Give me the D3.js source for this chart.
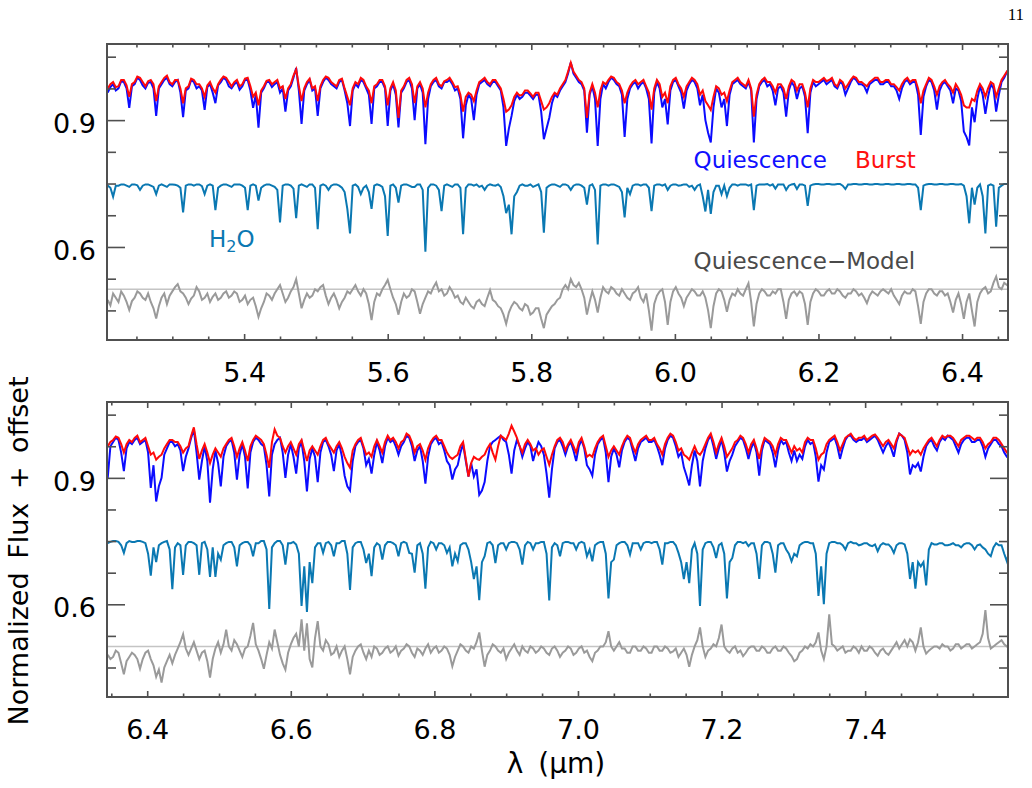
<!DOCTYPE html>
<html>
<head>
<meta charset="utf-8">
<script src="https://cdn.jsdelivr.net/npm/d3@7"></script>
<style>
    body { margin: 0; background: #fff; }
    #spectra text { font-family: "DejaVu Sans", sans-serif; }
</style>
</head>
<body>
<div id="spectra"></div>
<script>
// resampled wavelength grid (micron): start of each panel + constant step
const waveStep = 0.00375;
const topStart = 5.21;
const bottomStart = 6.345;

// ---- 5.2 - 6.46 micron ----
const topQuiescence = [
    0.965,0.978,0.985,0.97,0.975,0.992,0.99,0.975,0.929,0.98,0.985,1.0,0.995,0.982,0.975,0.988,0.99,0.975,0.910,0.975,
    0.985,0.995,1.0,0.985,0.98,0.99,0.995,0.965,0.907,0.97,0.975,0.995,0.99,0.975,0.98,0.97,0.924,0.978,0.985,0.965,
    0.94,0.982,0.99,1.0,0.995,0.98,0.975,0.985,0.99,0.972,0.98,0.995,0.995,0.97,0.929,0.96,0.882,0.965,0.975,0.99,
    0.99,0.978,0.985,0.99,0.965,0.975,0.92,0.97,0.98,1.0,1.023,0.97,0.891,0.97,0.985,0.995,0.97,0.975,0.91,0.975,
    0.99,1.0,0.995,0.985,0.98,0.975,0.99,0.995,0.97,0.94,0.886,0.97,0.985,0.978,0.995,0.99,0.975,0.96,0.891,0.975,
    0.98,0.99,0.99,0.975,0.886,0.97,0.985,0.96,0.883,0.965,0.975,0.99,0.995,0.975,0.90,0.975,0.985,0.965,0.843,0.95,
    0.98,0.99,0.995,0.98,0.975,0.99,0.99,0.995,0.985,0.97,0.975,0.95,0.857,0.935,0.96,0.95,0.90,0.96,0.985,0.99,
    0.995,0.985,0.98,0.99,0.99,0.98,0.97,0.93,0.839,0.88,0.91,0.945,0.96,0.95,0.955,0.965,0.965,0.958,0.95,0.96,
    0.96,0.92,0.855,0.88,0.905,0.94,0.96,0.955,0.97,0.98,0.99,1.01,1.036,1.01,1.0,0.99,0.985,0.97,0.87,0.96,
    0.98,0.95,0.839,0.95,0.985,0.975,0.99,1.0,0.995,0.985,0.98,0.96,0.86,0.95,0.975,0.985,0.99,0.975,0.985,0.99,
    0.975,0.95,0.845,0.965,0.99,0.975,0.93,0.95,0.89,0.97,0.99,0.995,0.98,0.965,0.927,0.97,0.985,0.995,0.99,0.975,
    0.935,0.96,0.90,0.87,0.847,0.93,0.975,0.965,0.93,0.95,0.886,0.96,0.985,0.99,0.995,0.985,0.98,0.975,0.99,0.97,
    0.847,0.95,0.98,0.99,0.995,0.98,0.985,0.97,0.935,0.975,0.98,0.965,0.908,0.97,0.99,0.98,0.95,0.975,0.98,0.955,
    0.869,0.965,0.99,0.98,0.985,0.99,0.995,0.985,0.99,0.995,0.98,0.975,0.99,0.985,0.96,0.975,0.99,1.0,0.995,0.985,
    0.985,0.98,0.966,0.985,0.99,0.995,0.995,0.985,0.985,0.99,0.99,0.98,0.98,0.97,0.95,0.975,0.99,0.995,0.985,0.99,
    0.99,0.96,0.865,0.955,0.98,0.995,0.99,0.97,0.925,0.97,0.985,0.99,0.98,0.97,0.94,0.975,0.97,0.945,0.873,0.86,
    0.84,0.93,0.895,0.95,0.98,0.96,0.915,0.955,0.985,0.975,0.92,0.96,0.99,1.0,1.014,1.01
];
const topBurst = [
    0.975,0.985,0.99,0.978,0.98,0.995,0.995,0.982,0.955,0.985,0.99,1.003,1.0,0.99,0.98,0.992,0.995,0.985,0.945,0.98,
    0.99,1.0,1.005,0.99,0.985,0.995,0.995,0.975,0.94,0.975,0.98,0.998,0.995,0.985,0.985,0.975,0.955,0.982,0.99,0.975,
    0.965,0.985,0.995,1.003,1.0,0.99,0.98,0.99,0.995,0.98,0.985,0.998,1.0,0.98,0.955,0.965,0.935,0.97,0.98,0.993,
    0.995,0.985,0.99,0.995,0.975,0.98,0.95,0.975,0.985,1.005,1.02,0.98,0.945,0.975,0.99,0.998,0.975,0.98,0.945,0.98,
    0.995,1.003,1.0,0.99,0.985,0.98,0.995,0.998,0.975,0.955,0.935,0.975,0.99,0.985,1.0,0.995,0.98,0.97,0.94,0.98,
    0.985,0.995,0.995,0.98,0.935,0.975,0.99,0.97,0.905,0.97,0.98,0.995,1.0,0.985,0.94,0.98,0.99,0.975,0.93,0.965,
    0.985,0.995,1.0,0.985,0.98,0.992,0.995,1.0,0.99,0.978,0.98,0.96,0.92,0.955,0.965,0.96,0.945,0.97,0.99,0.995,
    1.0,0.99,0.985,0.995,0.995,0.985,0.975,0.95,0.92,0.925,0.935,0.955,0.965,0.958,0.96,0.97,0.97,0.963,0.955,0.965,
    0.965,0.945,0.925,0.93,0.94,0.955,0.965,0.96,0.975,0.985,0.995,1.015,1.036,1.015,1.005,0.995,0.99,0.975,0.905,0.965,
    0.985,0.965,0.93,0.97,0.99,0.985,0.995,1.003,1.0,0.99,0.985,0.97,0.94,0.965,0.98,0.99,0.995,0.985,0.99,0.995,
    0.98,0.965,0.925,0.975,0.995,0.985,0.955,0.965,0.94,0.98,0.995,1.0,0.985,0.975,0.955,0.98,0.99,1.0,0.995,0.985,
    0.96,0.97,0.945,0.935,0.924,0.955,0.98,0.975,0.96,0.965,0.945,0.97,0.99,0.995,1.0,0.99,0.985,0.98,0.995,0.975,
    0.908,0.96,0.985,0.995,1.0,0.99,0.99,0.98,0.965,0.985,0.985,0.975,0.95,0.98,0.995,0.99,0.97,0.985,0.985,0.965,
    0.93,0.975,0.995,0.99,0.99,0.995,1.0,0.992,0.995,1.0,0.985,0.98,0.995,0.99,0.975,0.985,0.995,1.003,1.0,0.99,
    0.99,0.985,0.98,0.99,0.995,1.0,1.0,0.99,0.99,0.995,0.995,0.985,0.985,0.978,0.97,0.985,0.995,1.0,0.99,0.995,
    0.995,0.975,0.94,0.97,0.985,1.0,0.995,0.98,0.96,0.98,0.99,0.995,0.985,0.978,0.965,0.985,0.975,0.96,0.935,0.93,
    0.93,0.95,0.945,0.97,0.985,0.975,0.955,0.975,0.99,0.985,0.955,0.975,0.995,1.005,1.015,1.01
];
const topH2O = [
    0.745,0.74,0.719,0.745,0.745,0.748,0.748,0.745,0.742,0.748,0.748,0.746,0.735,0.745,0.748,0.748,0.745,0.742,0.725,0.745,
    0.748,0.745,0.742,0.748,0.748,0.747,0.745,0.74,0.682,0.745,0.748,0.748,0.745,0.748,0.748,0.744,0.725,0.745,0.748,0.745,
    0.687,0.74,0.745,0.748,0.748,0.745,0.742,0.748,0.748,0.748,0.745,0.74,0.687,0.745,0.748,0.745,0.71,0.74,0.745,0.748,
    0.748,0.745,0.742,0.735,0.658,0.745,0.748,0.748,0.745,0.738,0.668,0.745,0.748,0.745,0.742,0.748,0.748,0.74,0.642,0.745,
    0.748,0.745,0.735,0.745,0.748,0.748,0.745,0.74,0.73,0.69,0.632,0.745,0.748,0.742,0.725,0.74,0.745,0.73,0.69,0.745,
    0.748,0.746,0.742,0.72,0.626,0.745,0.748,0.74,0.705,0.745,0.748,0.748,0.745,0.742,0.742,0.748,0.748,0.735,0.589,0.74,
    0.748,0.748,0.745,0.735,0.685,0.745,0.748,0.745,0.742,0.748,0.748,0.74,0.63,0.74,0.748,0.748,0.745,0.748,0.742,0.745,
    0.735,0.745,0.748,0.746,0.745,0.748,0.742,0.72,0.68,0.70,0.63,0.72,0.73,0.745,0.748,0.745,0.745,0.748,0.742,0.745,
    0.748,0.73,0.634,0.74,0.745,0.748,0.748,0.745,0.742,0.748,0.748,0.745,0.735,0.745,0.748,0.748,0.745,0.74,0.70,0.745,
    0.748,0.735,0.606,0.745,0.748,0.748,0.745,0.748,0.748,0.745,0.742,0.73,0.67,0.74,0.725,0.745,0.748,0.748,0.745,0.748,
    0.748,0.74,0.685,0.745,0.748,0.748,0.745,0.748,0.735,0.745,0.748,0.748,0.745,0.746,0.748,0.748,0.742,0.745,0.735,0.745,
    0.748,0.72,0.684,0.735,0.678,0.73,0.745,0.745,0.725,0.745,0.72,0.74,0.748,0.748,0.745,0.748,0.748,0.748,0.745,0.748,
    0.687,0.745,0.748,0.748,0.748,0.749,0.745,0.748,0.738,0.748,0.748,0.748,0.735,0.745,0.748,0.749,0.737,0.748,0.748,0.745,
    0.697,0.745,0.748,0.749,0.749,0.748,0.748,0.749,0.749,0.748,0.748,0.749,0.749,0.745,0.737,0.748,0.748,0.749,0.749,0.748,
    0.748,0.749,0.749,0.748,0.748,0.749,0.749,0.748,0.748,0.749,0.749,0.748,0.748,0.749,0.749,0.748,0.748,0.749,0.749,0.748,
    0.748,0.74,0.687,0.745,0.748,0.749,0.749,0.748,0.748,0.749,0.749,0.748,0.748,0.749,0.749,0.748,0.748,0.749,0.745,0.72,
    0.656,0.74,0.70,0.74,0.748,0.72,0.632,0.745,0.748,0.745,0.648,0.74,0.745,0.749,0.749,0.748
];
const topResidual = [
    0.475,0.462,0.49,0.48,0.47,0.495,0.485,0.47,0.451,0.472,0.48,0.495,0.49,0.48,0.475,0.49,0.47,0.455,0.431,0.46,
    0.48,0.49,0.465,0.485,0.495,0.505,0.512,0.495,0.49,0.48,0.465,0.478,0.485,0.505,0.495,0.475,0.48,0.49,0.47,0.482,
    0.49,0.475,0.48,0.49,0.495,0.48,0.485,0.495,0.49,0.47,0.475,0.485,0.465,0.475,0.48,0.46,0.435,0.455,0.47,0.49,
    0.485,0.475,0.49,0.5,0.51,0.49,0.47,0.48,0.495,0.505,0.524,0.49,0.455,0.475,0.49,0.48,0.485,0.5,0.495,0.505,
    0.51,0.485,0.465,0.48,0.49,0.475,0.455,0.47,0.48,0.495,0.49,0.5,0.51,0.495,0.485,0.5,0.49,0.465,0.427,0.47,
    0.49,0.485,0.5,0.51,0.522,0.5,0.48,0.465,0.44,0.47,0.49,0.48,0.485,0.5,0.495,0.47,0.442,0.465,0.48,0.495,
    0.49,0.505,0.516,0.495,0.5,0.485,0.49,0.505,0.495,0.48,0.485,0.47,0.465,0.48,0.47,0.46,0.455,0.47,0.475,0.465,
    0.46,0.48,0.498,0.475,0.47,0.46,0.455,0.44,0.418,0.445,0.46,0.47,0.465,0.455,0.45,0.465,0.46,0.44,0.445,0.455,
    0.455,0.43,0.408,0.44,0.45,0.46,0.465,0.475,0.48,0.5,0.51,0.5,0.524,0.51,0.505,0.515,0.5,0.48,0.44,0.47,
    0.495,0.475,0.445,0.48,0.505,0.495,0.49,0.505,0.5,0.49,0.485,0.5,0.49,0.48,0.475,0.49,0.495,0.505,0.48,0.47,
    0.49,0.45,0.402,0.465,0.485,0.495,0.5,0.47,0.416,0.47,0.495,0.505,0.49,0.48,0.46,0.48,0.49,0.5,0.495,0.485,
    0.485,0.495,0.48,0.45,0.408,0.46,0.49,0.5,0.495,0.475,0.447,0.475,0.49,0.485,0.5,0.49,0.485,0.5,0.514,0.47,
    0.412,0.465,0.49,0.5,0.495,0.485,0.485,0.495,0.49,0.5,0.5,0.47,0.43,0.475,0.49,0.495,0.485,0.495,0.49,0.465,
    0.416,0.47,0.49,0.5,0.495,0.485,0.485,0.495,0.5,0.49,0.49,0.5,0.495,0.485,0.48,0.49,0.49,0.5,0.495,0.485,
    0.49,0.48,0.467,0.485,0.495,0.49,0.485,0.495,0.5,0.495,0.49,0.5,0.485,0.475,0.465,0.485,0.495,0.49,0.49,0.5,
    0.495,0.46,0.418,0.47,0.49,0.5,0.5,0.49,0.485,0.495,0.495,0.485,0.49,0.47,0.445,0.475,0.49,0.465,0.43,0.47,
    0.49,0.45,0.412,0.47,0.49,0.5,0.505,0.49,0.495,0.515,0.53,0.505,0.5,0.515,0.51,0.505
];

// ---- 6.34 - 7.6 micron ----
const bottomQuiescence = [
    0.90,0.975,0.985,0.995,0.99,0.96,0.916,0.97,0.985,0.98,0.99,0.995,0.98,0.985,0.99,0.96,0.876,0.93,0.844,0.88,
    0.90,0.955,0.97,0.985,0.985,0.975,0.98,0.965,0.916,0.95,0.97,0.995,1.015,0.96,0.896,0.94,0.975,0.94,0.841,0.92,
    0.965,0.935,0.88,0.95,0.975,0.985,0.99,0.96,0.896,0.955,0.98,0.95,0.875,0.96,0.985,0.995,0.99,0.98,0.975,0.93,
    0.856,0.955,0.98,0.99,0.995,0.96,0.90,0.955,0.98,0.95,0.91,0.97,0.985,0.94,0.868,0.945,0.97,0.95,0.89,0.96,
    0.985,0.99,0.975,0.955,0.916,0.965,0.98,0.95,0.905,0.88,0.87,0.94,0.975,0.985,0.99,0.97,0.93,0.945,0.91,0.955,
    0.985,0.965,0.935,0.975,0.995,0.985,0.99,0.975,0.955,0.975,0.985,1.0,0.995,0.975,0.94,0.965,0.975,0.94,0.886,0.95,
    0.98,0.99,0.995,0.98,0.985,0.965,0.94,0.93,0.896,0.92,0.93,0.96,0.98,0.94,0.903,0.935,0.903,0.92,0.86,0.87,
    0.89,0.94,0.975,0.985,0.99,0.995,1.0,0.99,0.985,0.955,0.91,0.965,0.99,0.975,0.95,0.97,0.985,0.975,0.94,0.965,
    0.985,0.975,0.955,0.91,0.853,0.92,0.97,0.985,0.99,0.975,0.955,0.975,0.985,0.965,0.94,0.975,0.99,0.97,0.93,0.92,
    0.905,0.955,0.98,0.99,0.995,0.96,0.89,0.95,0.97,0.955,0.925,0.965,0.985,0.995,0.99,0.965,0.94,0.97,0.985,0.99,
    0.995,0.985,0.985,0.99,0.975,0.955,0.93,0.97,0.99,1.0,0.995,0.975,0.95,0.96,0.925,0.905,0.882,0.93,0.965,0.94,
    0.88,0.94,0.97,0.99,1.0,0.975,0.945,0.97,0.99,0.96,0.915,0.94,0.955,0.975,0.985,0.995,0.99,0.97,0.945,0.97,
    0.985,0.96,0.905,0.965,0.99,0.985,0.98,0.96,0.925,0.965,0.99,0.98,0.985,0.96,0.94,0.965,0.94,0.955,0.945,0.975,
    0.99,0.98,0.985,0.95,0.891,0.93,0.92,0.96,0.985,0.99,0.995,0.975,0.945,0.97,0.99,1.0,1.0,0.99,0.985,0.99,
    0.99,0.995,0.985,0.99,0.995,1.0,0.99,0.975,0.96,0.975,0.985,0.97,0.95,0.985,1.005,1.0,0.99,0.96,0.908,0.93,
    0.925,0.935,0.915,0.95,0.975,0.985,0.99,0.975,0.965,0.985,0.995,0.99,1.0,0.995,0.99,0.975,0.96,0.98,0.99,0.995,
    0.995,0.985,0.985,0.99,0.99,0.975,0.95,0.97,0.98,0.99,0.99,0.98,0.975,0.96,0.95,0.945
];
const bottomBurst = [
    0.975,0.985,0.99,0.998,0.995,0.98,0.96,0.98,0.99,0.985,0.995,1.0,0.985,0.99,0.995,0.975,0.955,0.96,0.943,0.95,
    0.955,0.97,0.98,0.99,0.99,0.985,0.985,0.975,0.96,0.97,0.975,1.0,1.02,0.98,0.945,0.965,0.98,0.96,0.935,0.955,
    0.97,0.96,0.95,0.97,0.98,0.99,0.995,0.975,0.95,0.97,0.985,0.965,0.94,0.975,0.99,1.0,0.995,0.99,0.98,0.955,
    0.924,0.985,1.015,1.0,0.995,0.975,0.96,0.975,0.985,0.97,0.955,0.98,0.99,0.965,0.94,0.965,0.975,0.965,0.955,0.975,
    0.99,0.995,0.98,0.97,0.96,0.975,0.985,0.97,0.95,0.935,0.924,0.965,0.98,0.99,0.995,0.975,0.955,0.96,0.95,0.975,
    0.99,0.975,0.96,0.985,1.0,0.99,0.995,0.985,0.97,0.985,0.99,1.005,1.0,0.985,0.96,0.975,0.98,0.965,0.943,0.97,
    0.985,0.995,1.0,0.99,0.99,0.975,0.96,0.95,0.945,0.95,0.955,0.975,0.985,0.945,0.903,0.935,0.95,0.945,0.943,0.95,
    0.955,0.97,0.98,0.96,0.943,0.975,1.0,0.995,0.99,1.005,1.024,1.01,0.995,0.975,0.96,0.98,0.99,0.98,0.965,0.97,
    0.955,0.965,0.97,0.95,0.931,0.955,0.975,0.99,0.995,0.985,0.965,0.98,0.99,0.975,0.96,0.985,0.995,0.975,0.95,0.955,
    0.95,0.97,0.985,0.995,1.0,0.975,0.95,0.965,0.975,0.965,0.955,0.975,0.99,1.0,0.995,0.975,0.96,0.98,0.99,0.995,
    1.0,0.99,0.99,0.995,0.98,0.97,0.955,0.98,0.995,1.005,1.0,0.985,0.965,0.97,0.955,0.95,0.943,0.96,0.975,0.96,
    0.955,0.965,0.98,0.995,1.005,0.985,0.96,0.98,0.995,0.975,0.95,0.96,0.97,0.985,0.99,1.0,0.995,0.98,0.96,0.98,
    0.99,0.97,0.945,0.975,0.995,0.99,0.985,0.975,0.955,0.98,0.995,0.99,0.99,0.975,0.96,0.975,0.965,0.97,0.96,0.985,
    0.995,0.99,0.99,0.97,0.943,0.955,0.96,0.98,0.99,0.995,1.0,0.985,0.965,0.98,0.995,1.0,1.005,0.995,0.99,0.995,
    0.995,1.0,0.99,0.995,1.0,1.003,0.995,0.985,0.975,0.985,0.99,0.98,0.97,0.99,1.005,1.0,0.995,0.975,0.955,0.965,
    0.96,0.965,0.955,0.97,0.98,0.99,0.995,0.985,0.975,0.99,1.0,0.995,1.0,1.0,0.995,0.985,0.975,0.99,0.995,1.0,
    1.0,0.995,0.99,0.995,0.995,0.985,0.97,0.98,0.985,0.995,0.995,0.99,0.98,0.97,0.96,0.955
];
const bottomH2O = [
    0.745,0.748,0.75,0.75,0.748,0.74,0.722,0.745,0.75,0.748,0.748,0.75,0.75,0.748,0.745,0.72,0.668,0.735,0.70,0.74,
    0.745,0.748,0.75,0.73,0.636,0.735,0.745,0.74,0.67,0.74,0.748,0.748,0.745,0.74,0.67,0.745,0.748,0.73,0.665,0.735,
    0.665,0.72,0.706,0.74,0.745,0.748,0.748,0.735,0.69,0.74,0.745,0.748,0.748,0.74,0.714,0.745,0.745,0.75,0.75,0.73,
    0.589,0.735,0.745,0.75,0.75,0.74,0.694,0.745,0.745,0.748,0.742,0.72,0.596,0.69,0.582,0.70,0.65,0.735,0.745,0.745,
    0.722,0.745,0.748,0.74,0.714,0.745,0.745,0.75,0.75,0.72,0.634,0.735,0.745,0.748,0.748,0.73,0.698,0.72,0.667,0.735,
    0.745,0.74,0.706,0.74,0.748,0.748,0.745,0.74,0.714,0.745,0.748,0.745,0.722,0.72,0.675,0.74,0.745,0.72,0.637,0.735,
    0.748,0.745,0.73,0.745,0.745,0.74,0.722,0.735,0.69,0.72,0.702,0.74,0.745,0.745,0.73,0.70,0.66,0.69,0.61,0.70,
    0.714,0.745,0.748,0.74,0.698,0.74,0.745,0.745,0.73,0.745,0.748,0.748,0.745,0.73,0.694,0.74,0.748,0.745,0.73,0.745,
    0.745,0.748,0.748,0.72,0.609,0.735,0.745,0.74,0.714,0.745,0.748,0.748,0.745,0.745,0.73,0.745,0.748,0.745,0.714,0.73,
    0.702,0.74,0.745,0.748,0.748,0.72,0.614,0.70,0.706,0.74,0.745,0.748,0.748,0.74,0.718,0.745,0.745,0.745,0.73,0.745,
    0.748,0.748,0.745,0.748,0.748,0.73,0.694,0.745,0.745,0.748,0.748,0.74,0.722,0.70,0.66,0.70,0.65,0.73,0.745,0.72,
    0.596,0.73,0.745,0.748,0.748,0.735,0.71,0.74,0.745,0.72,0.614,0.70,0.71,0.74,0.748,0.748,0.745,0.748,0.738,0.745,
    0.745,0.72,0.66,0.74,0.748,0.748,0.745,0.72,0.675,0.74,0.745,0.745,0.73,0.72,0.702,0.72,0.714,0.74,0.745,0.748,
    0.748,0.745,0.745,0.72,0.62,0.69,0.60,0.72,0.745,0.748,0.748,0.745,0.745,0.74,0.73,0.745,0.748,0.745,0.745,0.74,
    0.742,0.745,0.745,0.74,0.738,0.742,0.726,0.74,0.745,0.742,0.742,0.735,0.722,0.74,0.745,0.745,0.742,0.72,0.66,0.70,
    0.637,0.70,0.69,0.70,0.645,0.73,0.745,0.742,0.742,0.745,0.745,0.74,0.74,0.742,0.745,0.74,0.74,0.735,0.742,0.745,
    0.745,0.74,0.73,0.74,0.742,0.735,0.73,0.72,0.714,0.735,0.745,0.74,0.74,0.72,0.702,0.73
];
const bottomResidual = [
    0.48,0.47,0.475,0.49,0.485,0.46,0.434,0.465,0.475,0.485,0.48,0.47,0.447,0.47,0.485,0.49,0.47,0.455,0.428,0.445,
    0.414,0.45,0.465,0.48,0.46,0.48,0.495,0.51,0.529,0.495,0.48,0.495,0.51,0.49,0.47,0.485,0.49,0.465,0.426,0.47,
    0.495,0.51,0.485,0.505,0.54,0.5,0.49,0.515,0.505,0.49,0.475,0.495,0.5,0.525,0.556,0.505,0.49,0.47,0.447,0.48,
    0.51,0.495,0.54,0.51,0.48,0.46,0.445,0.485,0.505,0.52,0.53,0.5,0.564,0.49,0.555,0.47,0.45,0.52,0.56,0.5,
    0.49,0.515,0.505,0.48,0.485,0.5,0.475,0.49,0.5,0.47,0.434,0.475,0.49,0.5,0.505,0.485,0.47,0.49,0.475,0.5,
    0.495,0.48,0.485,0.495,0.5,0.485,0.49,0.5,0.478,0.49,0.495,0.505,0.5,0.485,0.475,0.495,0.49,0.48,0.495,0.505,
    0.485,0.495,0.5,0.485,0.49,0.5,0.495,0.48,0.453,0.475,0.49,0.505,0.5,0.49,0.485,0.5,0.495,0.51,0.533,0.49,
    0.452,0.48,0.49,0.505,0.5,0.49,0.485,0.495,0.47,0.485,0.495,0.505,0.49,0.48,0.5,0.49,0.485,0.5,0.495,0.485,
    0.49,0.5,0.495,0.485,0.48,0.495,0.5,0.49,0.475,0.485,0.49,0.5,0.495,0.48,0.485,0.495,0.5,0.485,0.49,0.475,
    0.465,0.485,0.49,0.5,0.5,0.51,0.536,0.5,0.49,0.5,0.51,0.495,0.495,0.485,0.485,0.5,0.5,0.49,0.49,0.5,
    0.495,0.485,0.485,0.5,0.5,0.49,0.49,0.5,0.495,0.485,0.488,0.495,0.475,0.485,0.495,0.48,0.452,0.48,0.5,0.515,
    0.545,0.5,0.475,0.49,0.495,0.505,0.5,0.52,0.552,0.5,0.49,0.485,0.495,0.5,0.485,0.49,0.477,0.485,0.495,0.5,
    0.5,0.49,0.49,0.5,0.495,0.485,0.485,0.495,0.5,0.49,0.49,0.5,0.495,0.485,0.477,0.465,0.47,0.485,0.49,0.5,
    0.495,0.505,0.5,0.51,0.533,0.49,0.47,0.5,0.576,0.505,0.5,0.49,0.495,0.5,0.485,0.49,0.49,0.5,0.495,0.485,
    0.5,0.49,0.49,0.5,0.495,0.485,0.478,0.49,0.495,0.485,0.48,0.49,0.5,0.51,0.495,0.505,0.515,0.5,0.517,0.51,
    0.49,0.51,0.545,0.5,0.483,0.49,0.495,0.5,0.5,0.495,0.505,0.5,0.5,0.49,0.495,0.505,0.505,0.495,0.5,0.505,
    0.505,0.495,0.5,0.505,0.51,0.53,0.586,0.52,0.495,0.5,0.505,0.51,0.515,0.505,0.5,0.51
];

// axes
const fluxDomain = [0.38, 1.08];
const fluxTicks = [0.6, 0.9];
const residualZero = 0.5;
const topWaveDomain = [5.209, 6.464];
const bottomWaveDomain = [6.344, 7.599];
const topWaveTicks = [5.4, 5.6, 5.8, 6.0, 6.2, 6.4];
const bottomWaveTicks = [6.4, 6.6, 6.8, 7.0, 7.2, 7.4];

// labels, placed in data units of the upper panel
const labels = [
    { text: "Quiescence", wave: 6.026, flux: 0.787, color: "#1010ff" },
    { text: "Burst", wave: 6.251, flux: 0.787, color: "#ff1010" },
    { text: "Quiescence\u2212Model", wave: 6.026, flux: 0.547, color: "#4a4a4a" }
];

let chart = {
    width: 1032,
    height: 788,
    left: 107,
    plotWidth: 901
};

const colors = {
    quiescence: "#0b0bff",
    burst: "#ff0a0a",
    h2o: "#0a78b2",
    residual: "#9a9a9a",
    zero: "#c4c4c4",
    frame: "#505050"
};

var svg = d3.select("#spectra")
    .append("svg")
    .attr("width", chart.width)
    .attr("height", chart.height);

const panels = [
    {
        top: 44, height: 296, start: topStart,
        domain: topWaveDomain, ticks: topWaveTicks,
        quiescence: topQuiescence, burst: topBurst, h2o: topH2O, residual: topResidual
    },
    {
        top: 402, height: 295, start: bottomStart,
        domain: bottomWaveDomain, ticks: bottomWaveTicks,
        quiescence: bottomQuiescence, burst: bottomBurst, h2o: bottomH2O, residual: bottomResidual
    }
];

let topScales = null;

panels.forEach(function(p, k) {
    var g = svg.append("g")
        .attr("transform", "translate(" + chart.left + "," + p.top + ")");

    var xscale = d3.scaleLinear().domain(p.domain).range([0, chart.plotWidth]);
    var yscale = d3.scaleLinear().domain(fluxDomain).range([p.height, 0]);
    if (k === 0) topScales = { x: xscale, y: yscale, g: g };

    g.append("clipPath")
        .attr("id", "clip" + k)
        .append("rect")
        .attr("width", chart.plotWidth)
        .attr("height", p.height);

    var plot = g.append("g").attr("clip-path", "url(#clip" + k + ")");

    var generateLine = d3.line()
        .x(function(d, i) { return xscale(p.start + i * waveStep); })
        .y(function(d) { return yscale(d); });

    plot.append("path")
        .datum(p.quiescence)
        .attr("fill", "none")
        .attr("stroke", colors.quiescence)
        .attr("stroke-width", 2)
        .attr("d", generateLine);

    plot.append("path")
        .datum(p.burst)
        .attr("fill", "none")
        .attr("stroke", colors.burst)
        .attr("stroke-width", 2)
        .attr("d", generateLine);

    plot.append("path")
        .datum(p.h2o)
        .attr("fill", "none")
        .attr("stroke", colors.h2o)
        .attr("stroke-width", 2)
        .attr("d", generateLine);

    plot.append("line")
        .attr("x1", 0)
        .attr("x2", chart.plotWidth)
        .attr("y1", yscale(residualZero))
        .attr("y2", yscale(residualZero))
        .attr("stroke", colors.zero)
        .attr("stroke-width", 1.5);

    plot.append("path")
        .datum(p.residual)
        .attr("fill", "none")
        .attr("stroke", colors.residual)
        .attr("stroke-width", 2)
        .attr("d", generateLine);

    // minor ticks, every 0.05 micron and 0.075 in flux
    var minorX = d3.range(Math.ceil(p.domain[0] / 0.05) * 0.05, p.domain[1], 0.05)
        .filter(function(v) { return !p.ticks.some(function(t) { return Math.abs(t - v) < 1e-6; }); });
    var minorY = d3.range(0.45, fluxDomain[1], 0.075)
        .filter(function(v) { return !fluxTicks.some(function(t) { return Math.abs(t - v) < 1e-6; }); });

    function styleAxis(sel) {
        sel.select(".domain").remove();
        sel.selectAll("line").attr("stroke", colors.frame).attr("stroke-width", 1.6);
        sel.selectAll("text").attr("fill", "#000").style("font-size", "27px");
    }

    // bottom with labels
    g.append("g")
        .attr("transform", "translate(0," + p.height + ")")
        .call(d3.axisBottom(xscale).tickValues(p.ticks).tickSize(-6).tickPadding(23)
            .tickFormat(d3.format(".1f")))
        .call(styleAxis);
    g.append("g")
        .attr("transform", "translate(0," + p.height + ")")
        .call(d3.axisBottom(xscale).tickValues(minorX).tickSize(-3.5).tickFormat(""))
        .call(styleAxis);
    // mirrored top
    g.append("g")
        .call(d3.axisTop(xscale).tickValues(p.ticks).tickSize(-6).tickFormat(""))
        .call(styleAxis);
    g.append("g")
        .call(d3.axisTop(xscale).tickValues(minorX).tickSize(-3.5).tickFormat(""))
        .call(styleAxis);

    // left with labels
    g.append("g")
        .call(d3.axisLeft(yscale).tickValues(fluxTicks).tickSize(-18).tickPadding(11)
            .tickFormat(d3.format(".1f")))
        .call(styleAxis)
        .selectAll("text").attr("dy", "0.45em");
    g.append("g")
        .call(d3.axisLeft(yscale).tickValues(minorY).tickSize(-9).tickFormat(""))
        .call(styleAxis);
    // mirrored right
    g.append("g")
        .attr("transform", "translate(" + chart.plotWidth + ",0)")
        .call(d3.axisRight(yscale).tickValues(fluxTicks).tickSize(-18).tickFormat(""))
        .call(styleAxis);
    g.append("g")
        .attr("transform", "translate(" + chart.plotWidth + ",0)")
        .call(d3.axisRight(yscale).tickValues(minorY).tickSize(-9).tickFormat(""))
        .call(styleAxis);

    g.append("rect")
        .attr("width", chart.plotWidth)
        .attr("height", p.height)
        .attr("fill", "none")
        .attr("stroke", colors.frame)
        .attr("stroke-width", 2);
});

// text annotations in the upper panel
topScales.g.selectAll(".label")
    .data(labels)
    .enter()
    .append("text")
    .attr("class", "label")
    .attr("x", function(d) { return topScales.x(d.wave); })
    .attr("y", function(d) { return topScales.y(d.flux); })
    .attr("fill", function(d) { return d.color; })
    .style("font-size", "23px")
    .text(function(d) { return d.text; });

var h2oLabel = topScales.g.append("text")
    .attr("x", topScales.x(5.351))
    .attr("y", topScales.y(0.60))
    .attr("fill", colors.h2o)
    .style("font-size", "23px");
h2oLabel.append("tspan").text("H");
h2oLabel.append("tspan").attr("dy", 5).style("font-size", "16px").text("2");
h2oLabel.append("tspan").attr("dy", -5).text("O");

// axis titles
svg.append("text")
    .attr("x", 556)
    .attr("y", 773)
    .attr("text-anchor", "middle")
    .style("font-size", "28px")
    .style("word-spacing", "6px")
    .text("\u03bb (\u03bcm)");

svg.append("text")
    .attr("transform", "translate(28,551) rotate(-90)")
    .attr("text-anchor", "middle")
    .style("font-size", "27px")
    .style("word-spacing", "5px")
    .text("Normalized Flux + offset");

// page number
svg.append("text")
    .attr("x", 1024)
    .attr("y", 20)
    .attr("text-anchor", "end")
    .style("font-family", "'Liberation Serif', serif")
    .style("font-size", "17px")
    .text("11");
</script>
</body>
</html>
